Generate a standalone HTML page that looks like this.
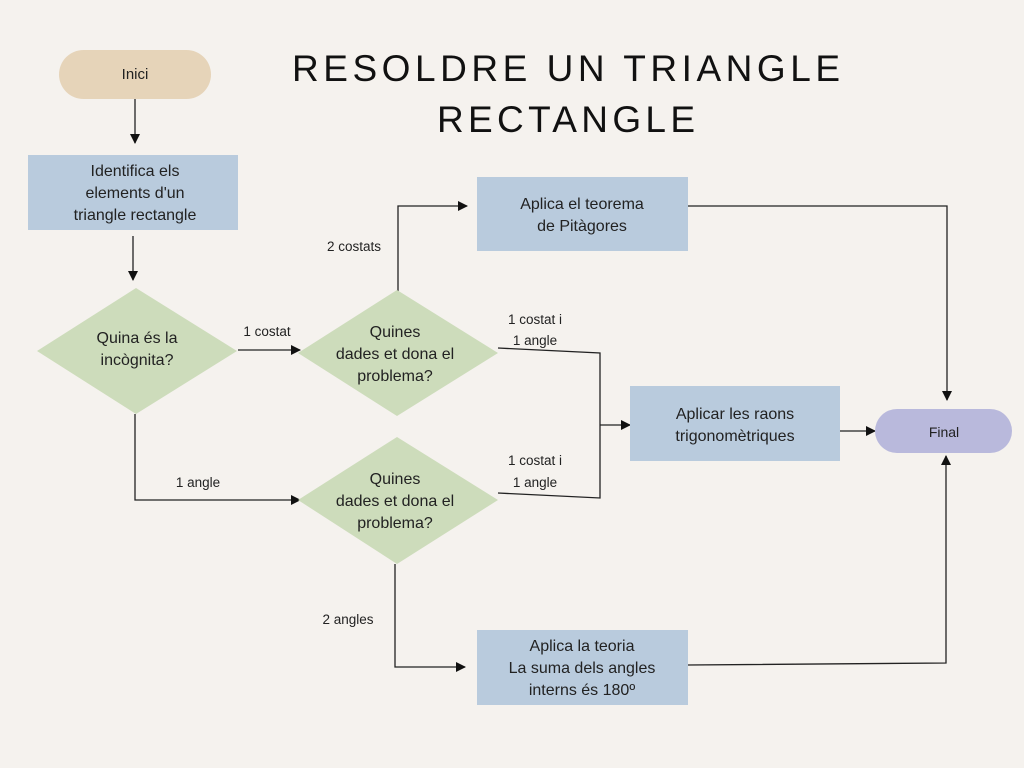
<!DOCTYPE html>
<html><head><meta charset="utf-8"><style>
html,body{margin:0;padding:0;background:#f5f2ee;}
svg{display:block;}
text{font-family:"Liberation Sans",sans-serif;fill:#222;}
</style></head><body>
<svg width="1024" height="768" viewBox="0 0 1024 768" xmlns="http://www.w3.org/2000/svg">
<defs><marker id="a" markerWidth="10" markerHeight="10" refX="9" refY="5" orient="auto" markerUnits="userSpaceOnUse"><path d="M0,0 L10,5 L0,10 z" fill="#111"/></marker></defs>
<rect width="1024" height="768" fill="#f5f2ee"/>
<text x="566" y="81" text-anchor="middle" font-size="37" textLength="548" lengthAdjust="spacing" style="fill:#111;font-weight:300">RESOLDRE UN TRIANGLE</text>
<text x="566" y="132" text-anchor="middle" font-size="37" textLength="258" lengthAdjust="spacing" style="fill:#111;font-weight:300">RECTANGLE</text>

<g fill="none" stroke="#222" stroke-width="1.3">
<path d="M135,99 V143" marker-end="url(#a)"/>
<path d="M133,236 V280" marker-end="url(#a)"/>
<path d="M238,350 H300" marker-end="url(#a)"/>
<path d="M398,292 V206 H467" marker-end="url(#a)"/>
<path d="M498,348 L600,353 V498 L498,493"/>
<path d="M600,425 H630" marker-end="url(#a)"/>
<path d="M840,431 H875" marker-end="url(#a)"/>
<path d="M688,206 H947 V400" marker-end="url(#a)"/>
<path d="M688,665 L946,663 V456" marker-end="url(#a)"/>
<path d="M135,414 V500 H300" marker-end="url(#a)"/>
<path d="M395,564 V667 H465" marker-end="url(#a)"/>
</g>

<rect x="59" y="50" width="152" height="49" rx="24.5" fill="#e6d4b9"/>
<text x="135" y="79" text-anchor="middle" font-size="15">Inici</text>

<rect x="28" y="155" width="210" height="75" fill="#b9cbdd"/>
<text x="135" y="176" text-anchor="middle" font-size="16">Identifica els</text>
<text x="135" y="198" text-anchor="middle" font-size="16">elements d'un</text>
<text x="135" y="220" text-anchor="middle" font-size="16">triangle rectangle</text>

<polygon points="136,288 237,351 136,414 37,351" fill="#cddcbb"/>
<text x="137" y="343" text-anchor="middle" font-size="16">Quina és la</text>
<text x="137" y="365" text-anchor="middle" font-size="16">incògnita?</text>

<polygon points="397,290 498,353 397,416 298,353" fill="#cddcbb"/>
<text x="395" y="337" text-anchor="middle" font-size="16">Quines</text>
<text x="395" y="359" text-anchor="middle" font-size="16">dades et dona el</text>
<text x="395" y="381" text-anchor="middle" font-size="16">problema?</text>

<polygon points="397,437 498,500 397,564 298,500" fill="#cddcbb"/>
<text x="395" y="484" text-anchor="middle" font-size="16">Quines</text>
<text x="395" y="506" text-anchor="middle" font-size="16">dades et dona el</text>
<text x="395" y="528" text-anchor="middle" font-size="16">problema?</text>

<rect x="477" y="177" width="211" height="74" fill="#b9cbdd"/>
<text x="582" y="209" text-anchor="middle" font-size="16">Aplica el teorema</text>
<text x="582" y="231" text-anchor="middle" font-size="16">de Pitàgores</text>

<rect x="630" y="386" width="210" height="75" fill="#b9cbdd"/>
<text x="735" y="419" text-anchor="middle" font-size="16">Aplicar les raons</text>
<text x="735" y="441" text-anchor="middle" font-size="16">trigonomètriques</text>

<rect x="477" y="630" width="211" height="75" fill="#b9cbdd"/>
<text x="582" y="651" text-anchor="middle" font-size="16">Aplica la teoria</text>
<text x="582" y="673" text-anchor="middle" font-size="16">La suma dels angles</text>
<text x="582" y="695" text-anchor="middle" font-size="16">interns és 180º</text>

<rect x="875" y="409" width="137" height="44" rx="22" fill="#b9b9dc"/>
<text x="944" y="437" text-anchor="middle" font-size="14">Final</text>

<g font-size="13.5">
<text x="267" y="336" text-anchor="middle">1 costat</text>
<text x="354" y="251" text-anchor="middle">2 costats</text>
<text x="535" y="324" text-anchor="middle">1 costat i</text>
<text x="535" y="345" text-anchor="middle">1 angle</text>
<text x="535" y="465" text-anchor="middle">1 costat i</text>
<text x="535" y="487" text-anchor="middle">1 angle</text>
<text x="198" y="487" text-anchor="middle">1 angle</text>
<text x="348" y="624" text-anchor="middle">2 angles</text>
</g>
</svg>
</body></html>
